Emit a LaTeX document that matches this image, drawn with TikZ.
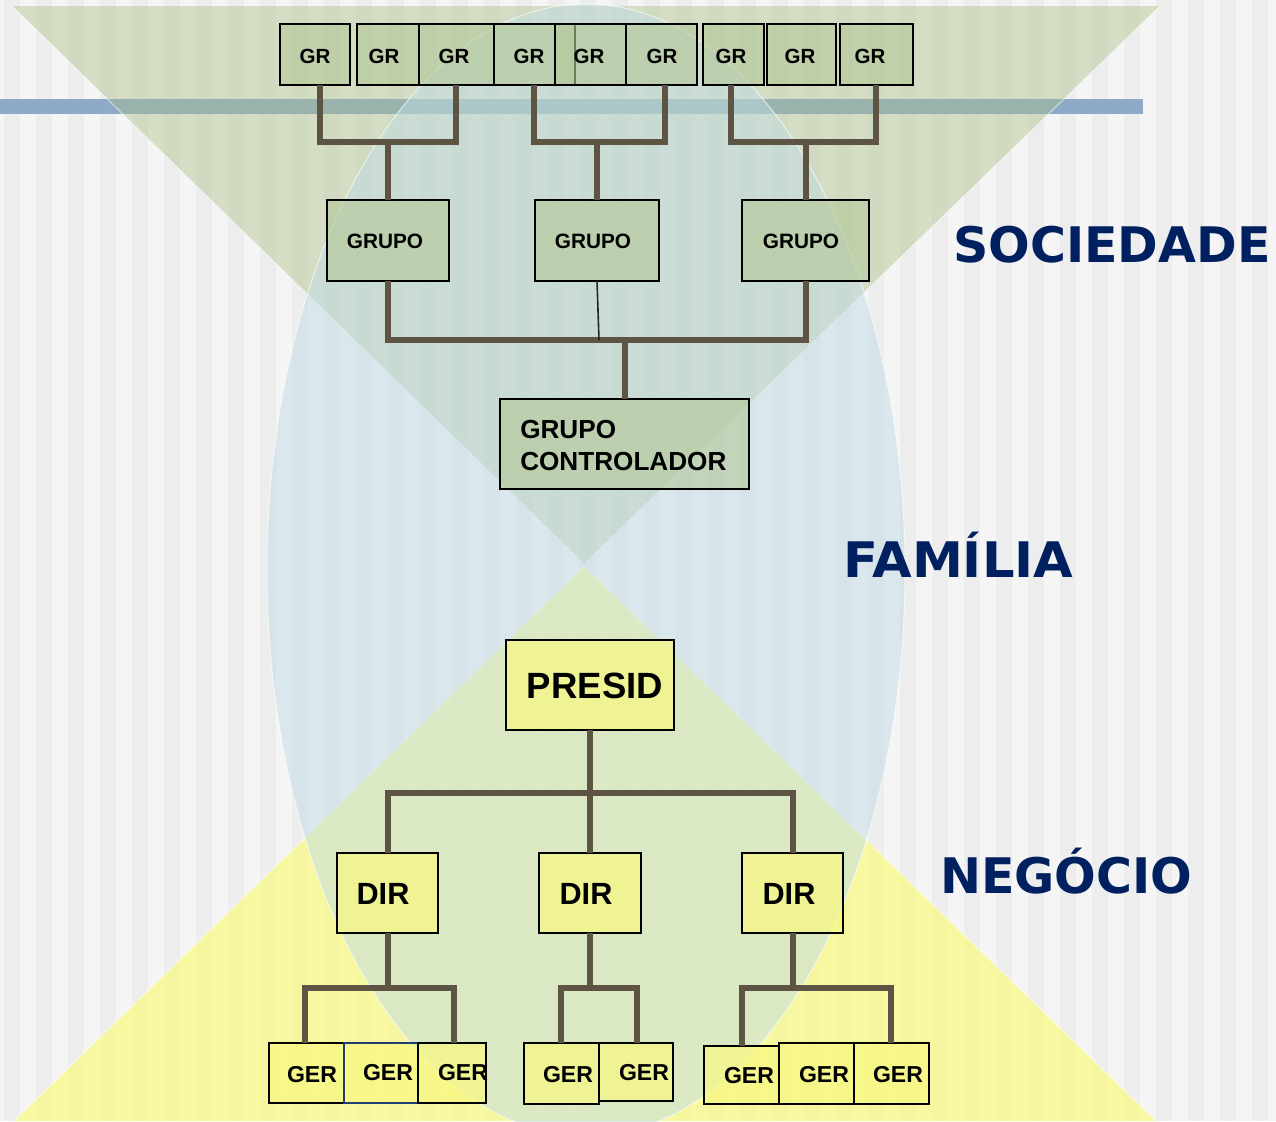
\documentclass[tikz,border=0pt]{standalone}
\usepackage{fontspec}
\setmainfont{Liberation Sans}
\newfontfamily\lblfont{DejaVu Sans}
\usetikzlibrary{calc}
\definecolor{bgdark}{HTML}{EDEDED}
\definecolor{bglight}{HTML}{F5F5F5}
\definecolor{barblue}{HTML}{8FA9C8}
\definecolor{trigreen}{HTML}{A9C083}
\definecolor{triyellow}{HTML}{FAFA80}
\definecolor{ellblue}{HTML}{C0DCE6}
\definecolor{boxgreen}{HTML}{B4C99A}
\definecolor{boxyellow}{HTML}{F8F880}
\definecolor{connc}{HTML}{5E5443}
\definecolor{navy}{HTML}{002060}
\definecolor{gerblue}{HTML}{1F3F74}
\newcommand\mkbox[6]{%
  \node[#1, minimum width={(#5-#3)*0.75pt}, minimum height={(#6-#4)*0.75pt}] (#2) at ({(#3+#5)/2},{(#4+#6)/2}) {};}
\tikzset{
  grbox/.style={draw=black, line width=1.5pt, fill=boxgreen, fill opacity=0.62, draw opacity=1, inner sep=0pt, outer sep=0pt},
  ylbox/.style={draw=black, line width=1.5pt, fill=boxyellow, fill opacity=0.7, draw opacity=1, inner sep=0pt, outer sep=0pt},
  conn/.style={draw=connc, line width=4.5pt, line join=miter},
  thinconn/.style={draw=black!85, line width=1.2pt},
  txt/.style={inner sep=0pt, text=black, font=\bfseries\fontsize{#1}{#1}\selectfont},
  lbl/.style={inner sep=0pt, text=navy, font=\lblfont\bfseries\fontsize{36.75}{40}\selectfont},
}
\begin{document}
\begin{tikzpicture}[x=0.75pt,y=-0.75pt]
\useasboundingbox (0,0) rectangle (1276,1121);
% background stripes
\fill[bglight] (0,0) rectangle (1276,1121);
\foreach \i in {0,...,39} {\fill[bgdark] ({4+32*\i},0) rectangle ({20+32*\i},1121);}
% blue bar
\fill[barblue] (0,99) rectangle (1143,114);
% triangles
\fill[trigreen, fill opacity=0.42] (12,6) -- (1160,6) -- (584,564) -- cycle;
\fill[triyellow, fill opacity=0.7] (584,566) -- (1156,1121) -- (14,1121) -- cycle;
\draw[white, line width=0.75pt, opacity=0.55] (12,6) -- (584,564) -- (1160,6);
\draw[white, line width=0.75pt, opacity=0.55] (14,1121) -- (584,566) -- (1156,1121);
% ellipse
\fill[ellblue, fill opacity=0.5] (586,570) ellipse [x radius=239.25pt, y radius=424.5pt];
\draw[white, line width=0.75pt, opacity=0.6] (586,570) ellipse [x radius=239.25pt, y radius=424.5pt];

% GR boxes
\mkbox{grbox}{gr1}{280}{24}{350}{85}
\mkbox{grbox}{gr2}{357}{24}{419}{85}
\mkbox{grbox}{gr3}{419}{24}{494}{85}
\mkbox{grbox}{gr4}{494}{24}{575}{85}
\mkbox{grbox}{gr5}{555}{24}{626}{85}
\mkbox{grbox}{gr6}{626}{24}{697}{85}
\mkbox{grbox}{gr7}{703}{24}{764}{85}
\mkbox{grbox}{gr8}{767}{24}{836}{85}
\mkbox{grbox}{gr9}{840}{24}{913}{85}
\foreach \x/\n in {315/1,384/2,454/3,529/4,589/5,662/6,731/7,800/8,870/9}
  {\node[txt=15.4] (tgr\n) at (\x,56) {GR};}
% GRUPO boxes
\mkbox{grbox}{g1}{327}{200}{449}{281}
\mkbox{grbox}{g2}{535}{200}{659}{281}
\mkbox{grbox}{g3}{742}{200}{869}{281}
\node[txt=15.6] (tg1) at (385,241) {GRUPO};
\node[txt=15.6] (tg2) at (593,241) {GRUPO};
\node[txt=15.6] (tg3) at (801,241) {GRUPO};
% GRUPO CONTROLADOR
\mkbox{grbox}{ctrl}{500}{399}{749}{489}
\node[txt=19.6, anchor=base west] (tc1) at (520,438) {GRUPO};
\node[txt=19.6, anchor=base west] (tc2) at (520,470) {CONTROLADOR};
% PRESID
\mkbox{ylbox}{pres}{506}{640}{674}{730}
\node[txt=27.4] (tpres) at (595,686) {PRESID};
% DIR
\mkbox{ylbox}{d1}{337}{853}{438}{933}
\mkbox{ylbox}{d2}{539}{853}{641}{933}
\mkbox{ylbox}{d3}{742}{853}{843}{933}
\node[txt=23] (td1) at (383,894) {DIR};
\node[txt=23] (td2) at (586,894) {DIR};
\node[txt=23] (td3) at (789,894) {DIR};
% GER
\mkbox{ylbox}{ger1}{269}{1043}{344}{1103}
\mkbox{ylbox, draw=gerblue, line width=0.9pt}{ger2}{344}{1043}{418}{1103}
\mkbox{ylbox}{ger3}{418}{1043}{486}{1103}
\mkbox{ylbox}{ger4}{524}{1043}{599}{1104}
\mkbox{ylbox}{ger5}{599}{1043}{673}{1101}
\mkbox{ylbox}{ger6}{704}{1046}{779}{1104}
\mkbox{ylbox}{ger7}{779}{1043}{854}{1104}
\mkbox{ylbox}{ger8}{854}{1043}{929}{1104}
\foreach \x/\y/\n in {312/1075/1,388/1073/2,463/1073/3,568/1075/4,644/1073/5,749/1076/6,824/1075/7,898/1075/8}
  {\node[txt=17.3] (tger\n) at (\x,\y) {GER};}

% bus coordinates
\coordinate (c1a) at (320,142); \coordinate (c1b) at (456,142);
\coordinate (c2a) at (534,142); \coordinate (c2b) at (665,142);
\coordinate (c3a) at (731,142); \coordinate (c3b) at (876,142);
\coordinate (c4) at (600,340); \coordinate (c5) at (599,340);
\coordinate (c6) at (590,793);
\coordinate (c7a) at (305,988); \coordinate (c7b) at (454,988);
\coordinate (c8a) at (561,988); \coordinate (c8b) at (637,988);
\coordinate (c9a) at (742,988); \coordinate (c9b) at (891,988);

\draw[conn] (gr1.south -| c1a) -- (c1a) -- (c1b) -- (gr3.south -| c1b);
\draw[conn] (g1.north) -- (g1.north |- c1a);
\draw[conn] (gr4.south -| c2a) -- (c2a) -- (c2b) -- (gr6.south -| c2b);
\draw[conn] (g2.north) -- (g2.north |- c2a);
\draw[conn] (gr7.south -| c3a) -- (c3a) -- (c3b) -- (gr9.south -| c3b);
\draw[conn] (g3.north) -- (g3.north |- c3a);
\draw[conn] (g1.south) -- (g1.south |- c4) -- (g3.south |- c4) -- (g3.south);
\draw[thinconn] (g2.south) -- (c5);
\draw[conn] (ctrl.north) -- (ctrl.north |- c4);
\draw[conn] (pres.south) -- (d2.north);
\draw[conn] (d1.north) -- (d1.north |- c6) -- (d3.north |- c6) -- (d3.north);
\draw[conn] (d1.south) -- (d1.south |- c7a);
\draw[conn] (ger1.north -| c7a) -- (c7a) -- (c7b) -- (ger3.north -| c7b);
\draw[conn] (d2.south) -- (d2.south |- c8a);
\draw[conn] (ger4.north -| c8a) -- (c8a) -- (c8b) -- (ger5.north -| c8b);
\draw[conn] (d3.south) -- (d3.south |- c9a);
\draw[conn] (ger6.north -| c9a) -- (c9a) -- (c9b) -- (ger8.north -| c9b);

% side labels
\node[lbl, anchor=base west] (soc) at (953,262) {SOCIEDADE};
\node[lbl, anchor=base west] (fam) at (843,577) {\scalebox{1.045}[1]{FAMÍLIA}};
\node[lbl, anchor=base west] (neg) at (940,893) {NEGÓCIO};
\end{tikzpicture}
\end{document}
